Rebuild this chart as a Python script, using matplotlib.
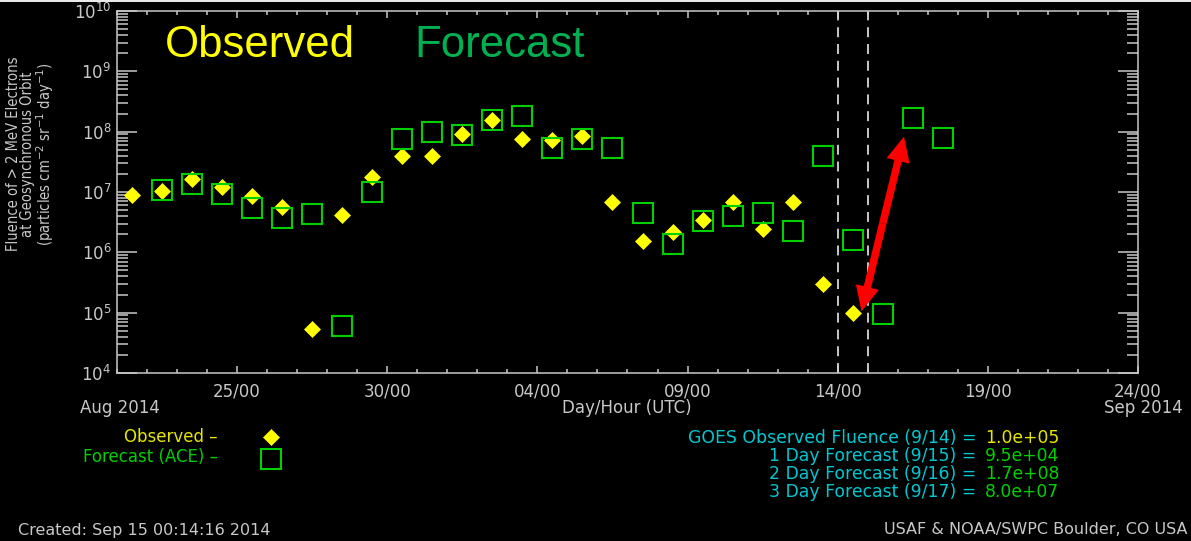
import matplotlib
matplotlib.use("Agg")
import matplotlib.pyplot as plt
import matplotlib.dates as mdates
import matplotlib.ticker as mticker
from matplotlib.lines import Line2D
from matplotlib.patches import FancyArrowPatch, Rectangle
import pandas as pd

# daily fluence of >2 MeV electrons at GEO (particles cm^-2 sr^-1 day^-1)
observed = [9.0e6, 1.05e7, 1.64e7, 1.22e7, 8.6e6, 5.7e6, 5.4e4, 4.2e6, 1.75e7,
            3.9e7, 3.9e7, 9.2e7, 1.56e8, 7.6e7, 7.2e7, 8.4e7, 6.7e6, 1.52e6,
            2.2e6, 3.4e6, 6.7e6, 2.4e6, 6.7e6, 3.0e5, 1.0e5]
forecast = [1.07e7, 1.37e7, 9.2e6, 5.5e6, 3.7e6, 4.3e6, 6.0e4, 1.0e7, 7.6e7,
            9.9e7, 8.9e7, 1.56e8, 1.82e8, 5.4e7, 7.6e7, 5.4e7, 4.5e6, 1.39e6,
            3.3e6, 4.0e6, 4.5e6, 2.3e6, 4.0e7, 1.62e6, 9.5e4, 1.7e8, 8.0e7]
obs_days = pd.date_range("2014-08-21 12:00", periods=len(observed), freq="D")
fc_days = pd.date_range("2014-08-22 12:00", periods=len(forecast), freq="D")

summary_labels = ["GOES Observed Fluence (9/14) =", "1 Day Forecast (9/15) =",
                  "2 Day Forecast (9/16) =", "3 Day Forecast (9/17) ="]
summary_values = [observed[-1], forecast[-3], forecast[-2], forecast[-1]]
summary_colors = ["#e6e600", "#00d000", "#00d000", "#00d000"]

x_start, x_end = pd.Timestamp("2014-08-21"), pd.Timestamp("2014-09-24")
today = [pd.Timestamp("2014-09-14"), pd.Timestamp("2014-09-15")]
major_days = pd.date_range("2014-08-25", "2014-09-24", freq="5D")

FG = "#c8c8c8"
YEL = "#ffff00"
GRN = "#00d000"
CYAN = "#00c8d2"

plt.rcParams["font.family"] = "DejaVu Sans"

W, H = 1191, 541
fig = plt.figure(figsize=(W / 100, H / 100), dpi=100, facecolor="black")
ax = fig.add_axes([117 / W, 1 - 373 / H, (1138 - 117) / W, (373 - 11) / H])
ax.set_facecolor("black")

def fx(px):
    return px / W

def fy(py):
    return 1 - py / H

# thin light edge along the top of the window
fig.add_artist(Rectangle((0, fy(2)), 1, 2 / H, transform=fig.transFigure,
                         facecolor="#e8e8e8", lw=0))

# plot data
ax.plot(obs_days, observed, ls="none", marker="D", ms=8.2, mfc=YEL, mec=YEL,
        mew=0.5, zorder=3)
ax.plot(fc_days, forecast, ls="none", marker="s", ms=14.2, mfc="none", mec=GRN,
        mew=1.5, zorder=4)

for d in today:
    ax.axvline(d, color="#d8d8d8", lw=1.3, dashes=(5.5, 3.8), zorder=2)

# double-headed arrow from today's observation to the 2-day forecast
arrow_low = (pd.Timestamp("2014-09-14 19:00"), 1.05e5)
arrow_high = (pd.Timestamp("2014-09-16 05:00"), 8.3e7)
arrow_mid = (pd.Timestamp("2014-09-15 12:00"), 3.0e6)
for tip in (arrow_low, arrow_high):
    ax.add_patch(FancyArrowPatch(
        (mdates.date2num(arrow_mid[0]), arrow_mid[1]),
        (mdates.date2num(tip[0]), tip[1]),
        arrowstyle="simple,head_length=0.9,head_width=0.85,tail_width=0.27",
        mutation_scale=20, color="#ff0000", lw=0, shrinkA=0, shrinkB=0,
        zorder=5))

ax.set_yscale("log")
ax.set_ylim(1e4, 1e10)
ax.set_xlim(x_start, x_end)

ax.xaxis.set_major_locator(mticker.FixedLocator(mdates.date2num(major_days)))
ax.xaxis.set_major_formatter(mdates.DateFormatter("%d/%H"))
ax.xaxis.set_minor_locator(mdates.DayLocator())
ax.yaxis.set_major_locator(mticker.LogLocator(base=10, numticks=10))
ax.yaxis.set_minor_locator(mticker.LogLocator(base=10, subs=range(2, 10), numticks=10))
ax.yaxis.set_minor_formatter(mticker.NullFormatter())

ax.tick_params(axis="x", which="both", direction="in", top=True, bottom=True,
               colors=FG, width=1.1, labelsize=12, pad=7)
ax.tick_params(axis="x", which="major", length=5)
ax.tick_params(axis="x", which="minor", length=3)
ax.tick_params(axis="y", which="both", direction="in", left=True, right=True,
               colors=FG, width=1.1, labelsize=12, pad=4)
ax.tick_params(axis="y", which="major", length=14.5)
ax.tick_params(axis="y", which="minor", length=8)
for sp in ax.spines.values():
    sp.set_color(FG)
    sp.set_linewidth(1.1)

fig.text(fx(31), fy(154),
         "Fluence of > 2 MeV Electrons\nat Geosynchronous Orbit\n"
         r"(particles cm$^{-2}$ sr$^{-1}$ day$^{-1}$)",
         rotation=90, ha="center", va="center", multialignment="center",
         color=FG, fontsize=10.5, fontstretch="condensed", linespacing=0.95)

fig.text(fx(80), fy(408), "Aug 2014", color=FG, fontsize=12, ha="left", va="center")
fig.text(fx(627), fy(408), "Day/Hour (UTC)", color=FG, fontsize=12, ha="center", va="center")
fig.text(fx(1183), fy(408), "Sep 2014", color=FG, fontsize=12, ha="right", va="center")

# big headings inside the plot
fig.text(fx(165), fy(57), "Observed", color=YEL, fontsize=31.5,
         family="Liberation Sans", va="baseline")
fig.text(fx(414), fy(57), "Forecast", color="#00b050", fontsize=31.5,
         family="Liberation Sans", va="baseline")

# symbol key
fig.text(fx(218), fy(437), "Observed \u2013", color="#e6e600", fontsize=12,
         ha="right", va="center")
fig.text(fx(218), fy(457), "Forecast (ACE) \u2013", color=GRN, fontsize=12,
         ha="right", va="center")
fig.add_artist(Line2D([fx(271)], [fy(437)], transform=fig.transFigure, marker="D",
                      ms=8.2, mfc=YEL, mec=YEL, mew=0.5, ls="none"))
fig.add_artist(Line2D([fx(271)], [fy(459)], transform=fig.transFigure, marker="s",
                      ms=14.2, mfc="none", mec=GRN, mew=1.5, ls="none"))

# fluence summary
for i, (lab, val, col) in enumerate(zip(summary_labels, summary_values, summary_colors)):
    y = 438 + i * 18
    fig.text(fx(976), fy(y), lab, color=CYAN, fontsize=12.4, ha="right", va="center")
    fig.text(fx(985), fy(y), f"{val:.1e}", color=col, fontsize=12.4, ha="left", va="center")

fig.text(fx(18), fy(530), "Created: Sep 15 00:14:16 2014", color=FG, fontsize=11.5,
         ha="left", va="center")
fig.text(fx(1188), fy(530), "USAF & NOAA/SWPC Boulder, CO USA", color=FG,
         fontsize=11.5, ha="right", va="center")

fig.savefig("out.png", dpi=100, facecolor="black")
